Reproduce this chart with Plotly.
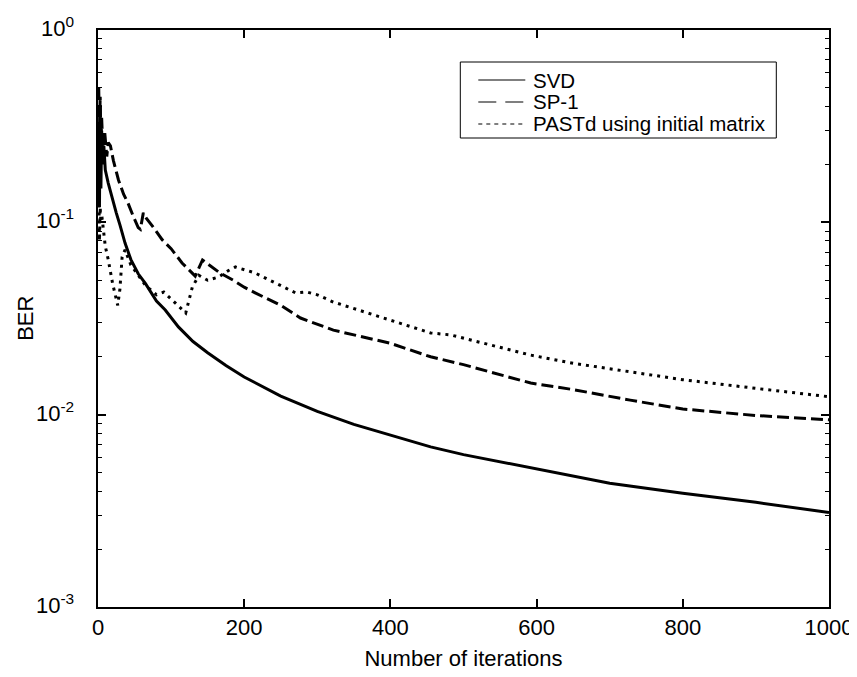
import math
import plotly.graph_objects as go

# ---------------- data ----------------
svd_x = [1, 2, 3, 4, 5, 6, 8, 10, 14, 19, 25, 30, 37, 45, 55, 65, 80, 92, 110, 130,
         150, 175, 200, 250, 300, 350, 400, 455, 500, 600, 700, 800, 900, 1000]
svd_y = [0.30, 0.12, 0.40, 0.15, 0.30, 0.20, 0.25, 0.187, 0.16, 0.135, 0.112, 0.097,
         0.078, 0.064, 0.054, 0.048, 0.039, 0.035, 0.0286, 0.024, 0.021, 0.018, 0.0157,
         0.0125, 0.0104, 0.0089, 0.0078, 0.0068, 0.0062, 0.0052, 0.0044, 0.0039,
         0.0035, 0.0031]

sp1_x = [1, 2, 3, 4, 5, 7, 9, 12, 14, 17, 21, 28, 35, 41, 48, 55, 58, 62, 66, 75, 88,
         100, 115, 125, 133, 143, 155, 167, 185, 200, 215, 250, 277, 322, 400, 455, 500,
         592, 650, 728, 800, 900, 1000]
sp1_y = [0.50, 0.30, 0.45, 0.25, 0.35, 0.22, 0.30, 0.22, 0.26, 0.25, 0.21, 0.166,
         0.14, 0.126, 0.108, 0.094, 0.092, 0.112, 0.105, 0.095, 0.081, 0.073, 0.0615,
         0.056, 0.0525, 0.0637, 0.059, 0.0545, 0.050, 0.046, 0.043, 0.037, 0.0318,
         0.0275, 0.0235, 0.020, 0.0182, 0.0146, 0.0135, 0.0119, 0.0107, 0.0099, 0.0094]

past_x = [1, 2, 3, 4, 5, 6, 10, 14, 20, 27, 30, 33, 37, 45, 55, 65, 80, 90, 106, 120,
          129, 138, 150, 165, 178, 188, 215, 250, 270, 285, 300, 322, 400, 455, 482,
          592, 650, 728, 800, 900, 1000]
past_y = [0.15, 0.08, 0.12, 0.10, 0.11, 0.103, 0.075, 0.064, 0.048, 0.037, 0.045,
          0.066, 0.072, 0.060, 0.053, 0.047, 0.042, 0.0434, 0.038, 0.0338, 0.046, 0.053,
          0.050, 0.052, 0.056, 0.0586, 0.0545, 0.047, 0.043, 0.0435, 0.042, 0.0385,
          0.031, 0.0266, 0.026, 0.0204, 0.0185, 0.0167, 0.0152, 0.0137, 0.0124]

series_names = ["SVD", "SP-1", "PASTd using initial matrix"]
x_ticks = [0, 200, 400, 600, 800, 1000]
y_ticks = [1e-3, 1e-2, 1e-1, 1e0]
y_tick_text = ["10<sup>-3</sup>", "10<sup>-2</sup>", "10<sup>-1</sup>", "10<sup>0</sup>"]
y_minor = [m * 10 ** k for k in (-3, -2, -1) for m in range(2, 10)]

# ---------------- figure ----------------
FONT = "Liberation Sans, Arial, sans-serif"
styles = [("solid", 3), ("12px,5px", 3), ("3px,5px", 3)]
legend_dash = ["solid", "18px,9px", "4px,4px"]

fig = go.Figure()
for name, (xs, ys), (dash, w) in zip(series_names,
                                     [(svd_x, svd_y), (sp1_x, sp1_y), (past_x, past_y)],
                                     styles):
    fig.add_trace(go.Scatter(x=xs, y=ys, mode="lines", name=name, showlegend=False,
                             line=dict(color="black", width=w, dash=dash)))

# ---- helpers: plot area in pixels -> paper coordinates ----
PL, PR, PT, PB = 97.7, 828.7, 30.0, 607.0


def px(xp):
    return (xp - PL) / (PR - PL)


def py(yp):
    return (PB - yp) / (PB - PT)


# ---- hand-drawn legend box (MATLAB style) ----
shapes = [dict(type="rect", xref="paper", yref="paper",
               x0=px(460), x1=px(776), y0=py(138), y1=py(62),
               line=dict(color="black", width=1), fillcolor="white", layer="above")]
annotations = []
row_y = [80, 102, 124]
for name, dash, yy in zip(series_names, legend_dash, row_y):
    shapes.append(dict(type="line", xref="paper", yref="paper",
                       x0=px(478), x1=px(525), y0=py(yy), y1=py(yy),
                       line=dict(color="black", width=1.2, dash=dash), layer="above"))
    annotations.append(dict(text=name, xref="paper", yref="paper",
                            x=px(531), y=py(yy), xanchor="left", yanchor="middle",
                            showarrow=False, font=dict(size=20.5, family=FONT)))

# ---- y tick labels (placed on the log axis at the tick values) ----
for v, t in zip(y_ticks, y_tick_text):
    annotations.append(dict(text=t, xref="paper", yref="y", x=px(76), y=math.log10(v),
                            xanchor="right", yanchor="middle", yshift=3,
                            showarrow=False, font=dict(size=22, family=FONT)))

# ---- y-axis title ----
annotations.append(dict(text="BER", xref="paper", yref="paper", x=px(25), y=0.5,
                        xanchor="center", yanchor="middle", textangle=-90,
                        showarrow=False, font=dict(size=22, family=FONT)))

fig.update_layout(
    width=849, height=669,
    margin=dict(l=90, r=28, t=22, b=70, autoexpand=False),
    paper_bgcolor="white", plot_bgcolor="white",
    font=dict(family=FONT, size=22, color="black"),
    showlegend=False,
    shapes=shapes, annotations=annotations,
    xaxis=dict(
        range=[0, 1000], tickmode="array", tickvals=x_ticks, ticks="inside", ticklen=8,
        tickwidth=1.5, tickcolor="black", showline=True, linecolor="black",
        linewidth=1.5, mirror="ticks", showgrid=False, zeroline=False,
        automargin=False,
        title=dict(text="Number of iterations", font=dict(size=22), standoff=11),
    ),
    yaxis=dict(
        type="log", range=[-3, 0], tickmode="array", tickvals=y_ticks,
        showticklabels=False,
        ticks="inside", ticklen=8, tickwidth=1.5, tickcolor="black",
        showline=True, linecolor="black", linewidth=1.5, mirror="ticks",
        showgrid=False, zeroline=False, automargin=False,
        minor=dict(tickmode="array", tickvals=y_minor, ticks="inside", ticklen=4,
                   tickwidth=1.2, tickcolor="black", showgrid=False),
    ),
)

fig.write_html("out.html")
